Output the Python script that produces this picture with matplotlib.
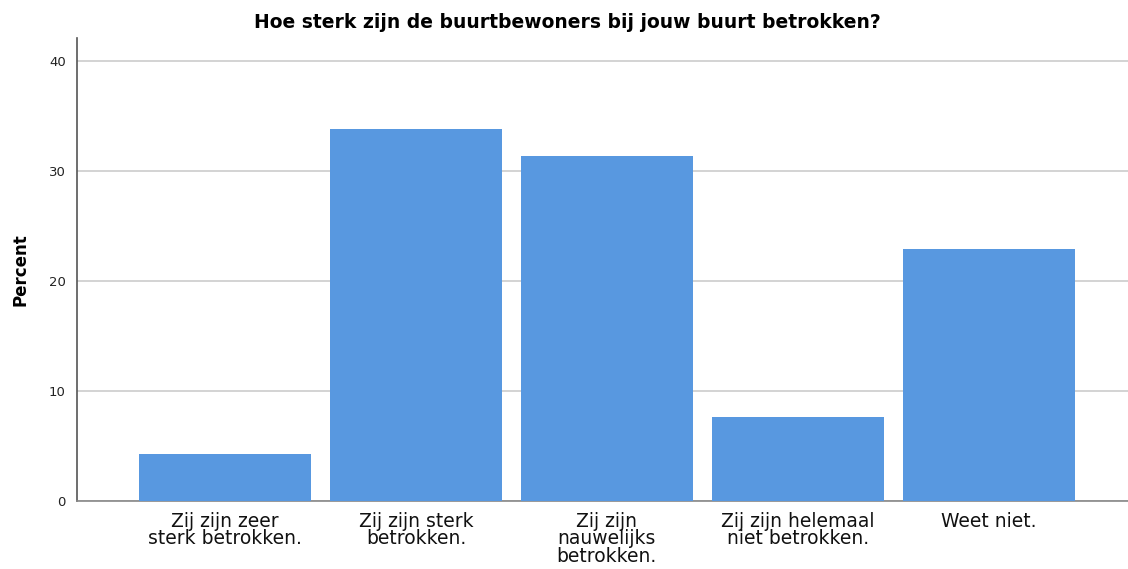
import matplotlib
matplotlib.use("Agg")
import matplotlib.pyplot as plt

categories = ["Zij zijn zeer\nsterk betrokken.", "Zij zijn sterk\nbetrokken.",
              "Zij zijn\nnauwelijks\nbetrokken.", "Zij zijn helemaal\nniet betrokken.",
              "Weet niet."]
percent = [4.3, 33.8, 31.4, 7.6, 22.9]
yticks = [0, 10, 20, 30, 40]

fig = plt.figure(figsize=(11.28, 5.69), dpi=100)
ax = fig.add_axes([77/1128, 1-501/569, 1-77/1128, (501-38)/569])
x = list(range(len(categories)))
ax.bar(x, percent, width=0.9, color="#5898e0", zorder=3)
ax.set_xlim(-0.775, 4.73)
ax.set_ylim(0, 42.1)
ax.set_yticks(yticks)
ax.set_yticklabels([str(t) for t in yticks], fontsize=9.5, color="#222222")
ax.set_xticks(x)
ax.set_xticklabels(categories, fontsize=13.5, color="#111111", linespacing=0.88)
ax.tick_params(axis="both", length=0)
ax.tick_params(axis="x", pad=8)
ax.tick_params(axis="y", pad=8)
ax.grid(axis="y", color="#cccccc", linewidth=1.2, zorder=0)
for s in ["top", "right"]:
    ax.spines[s].set_visible(False)
ax.spines["left"].set_color("#555555")
ax.spines["bottom"].set_color("#888888")
ax.spines["left"].set_linewidth(1.2)
ax.spines["bottom"].set_linewidth(1.2)
ax.set_ylabel("Percent", fontsize=12, fontweight="bold", labelpad=14)
fig.text(567/1128, 1-22/569, "Hoe sterk zijn de buurtbewoners bij jouw buurt betrokken?",
         ha="center", va="center", fontsize=13.5, fontweight="bold")
fig.savefig("out.png", dpi=100)
